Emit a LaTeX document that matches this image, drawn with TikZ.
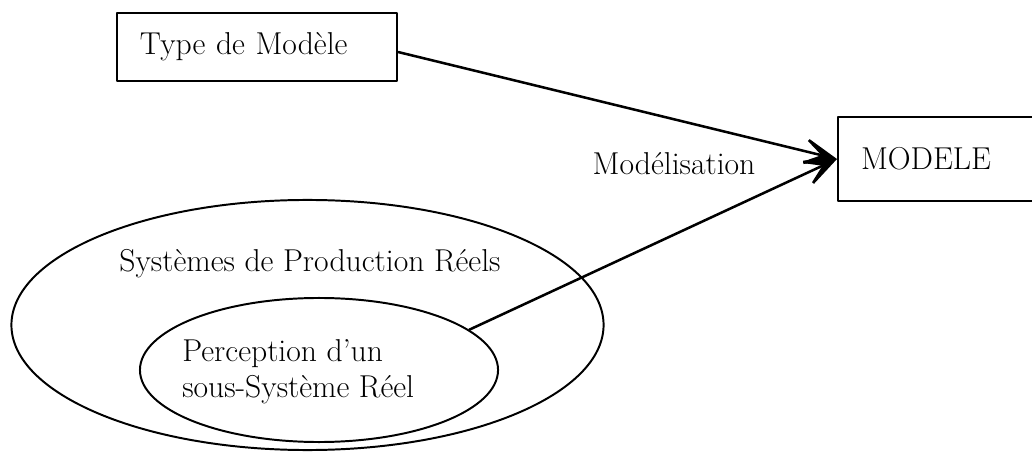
\documentclass[tikz,border=0pt]{standalone}
\usepackage{fontspec}
\usepackage{tikz}
\usetikzlibrary{arrows.meta,shapes.geometric,positioning}

\begin{document}
\begin{tikzpicture}[x=0.025cm, y=-0.025cm, line join=round,
  every node/.style={font=\fontsize{22.5}{25.5}\selectfont\addfontfeature{FakeBold=1.2}},
  boite/.style={draw, rectangle, line width=1.4pt, align=left, inner xsep=0.575cm},
  bulle/.style={draw, ellipse, line width=1.4pt, inner sep=0pt},
  fleche/.style={line width=1.8pt, -{Stealth[length=1.1cm, width=0.9cm, inset=0.7cm]}}]
\useasboundingbox (0,0) rectangle (1032,452);
\clip (0,0) rectangle (1032,452);
% boites
\node[boite, text width=5.85cm, minimum height=1.7cm] (type) at (257,47) {Type de Modèle};
\node[boite, text width=6cm, minimum height=2.1cm, anchor=west] (modele) at (837,159) {MODELE};
% ensembles
\node[bulle, minimum width=14.8cm, minimum height=6.25cm] (reel) at (307.5,325) {};
\node[bulle, minimum width=8.95cm, minimum height=3.6cm] (sous) at (319,370) {};
\node[anchor=base] (reeltxt) at (310,272) {Systèmes de Production Réels};
\node[align=left, anchor=west, inner sep=0pt] (soustxt) at (182,372) {Perception d'un\\sous-Système Réel};
\node[anchor=base] (modtxt) at (674,175) {Modélisation};
% fleches
\draw[fleche] ([yshift=-0.125cm]type.east) -- (modele.west);
\draw[fleche] (sous.15) -- (modele.west);
\end{tikzpicture}
\end{document}
